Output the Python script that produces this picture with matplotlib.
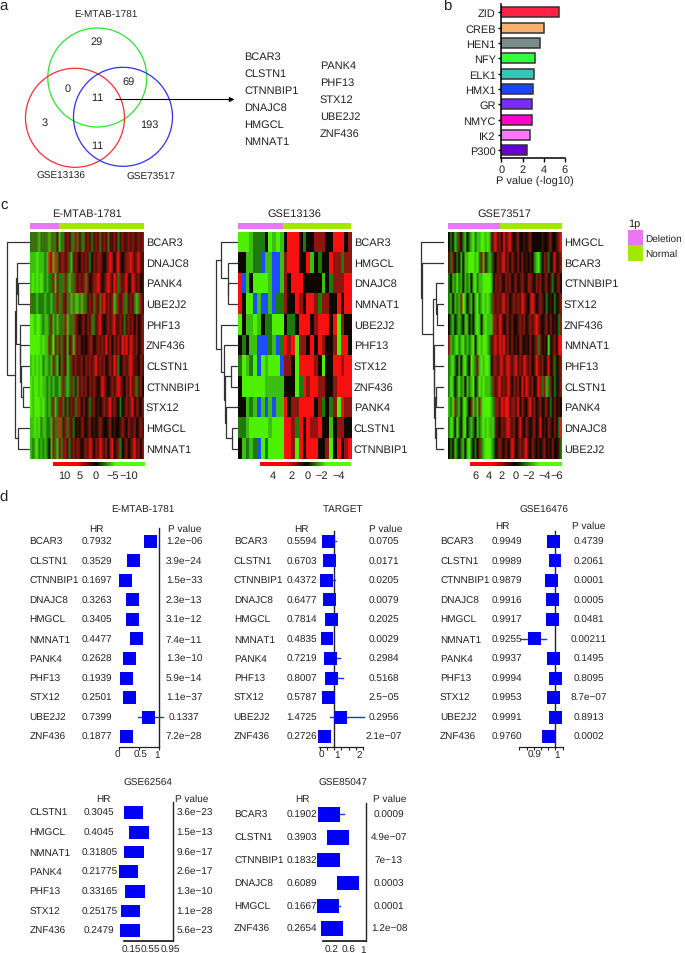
import numpy as np
import matplotlib
matplotlib.use('Agg')
import matplotlib.pyplot as plt
from matplotlib.colors import LinearSegmentedColormap, ListedColormap
from matplotlib.patches import Circle, Rectangle

plt.rcParams['font.family'] = ['Liberation Sans', 'DejaVu Sans']
plt.rcParams['text.hinting'] = 'no_hinting'
plt.rcParams['text.hinting_factor'] = 1

W, H = 685, 954
INK = '#222222'

# panel a
venn_names = ['E-MTAB-1781', 'GSE13136', 'GSE73517']
venn_counts = ['29', '0', '69', '11', '3', '193', '11']
overlap_col1 = ['BCAR3', 'CLSTN1', 'CTNNBIP1', 'DNAJC8', 'HMGCL', 'NMNAT1']
overlap_col2 = ['PANK4', 'PHF13', 'STX12', 'UBE2J2', 'ZNF436']

# panel b
tf_names = ['ZID', 'CREB', 'HEN1', 'NFY', 'ELK1', 'HMX1', 'GR', 'NMYC', 'IK2', 'P300']
tf_pvals = [5.4, 4.0, 3.6, 3.2, 3.1, 2.95, 2.9, 2.85, 2.7, 2.4]
tf_colors = ['#FF2244', '#F5B06E', '#7A8C88', '#33FF44', '#38C4B8',
             '#1A44FF', '#7A2CFF', '#FF00CC', '#FF77FF', '#6600CC']

# panel c, cells read by eye as colour levels, bright green .. bright red, b = blue
levels = 'GgdokmrRb'
level_colors = ['#4CF000', '#3BBF10', '#1F7A0C', '#5A6410', '#0E0800',
                '#4A1208', '#8E1510', '#F81010', '#1E4CFF']

heat1_genes = ['BCAR3', 'DNAJC8', 'PANK4', 'UBE2J2', 'PHF13', 'ZNF436',
               'CLSTN1', 'CTNNBIP1', 'STX12', 'HMGCL', 'NMNAT1']
heat1_rows = [
    'dodogdod ogodomgd omrmdoro mdomrmdm rmomrmom mrmdmrmm rmrmmrmr',
    'gggGgggd gRrgRdmr rmrdgmrm krmrmdkr mrrmkmrR rkrRmkmr rRrmrRmm',
    'gGgGgGgd gddrgrdd ordgodrm rmrorkmr rRrkmrRr mRrdrmrR kmRrmrkm',
    'oddgdddg ddgdorod rmoogogg ogodmrmo rmorRmrm rgormrdo mrmogorm',
    'GGgGGgdg gdrgdgod orgodorm kmrkrmod mrRmkmrm rRmmrmdm rmrkrkmr',
    'GGGGGgGg grdGrdrd rmgmrgrm rkmkmrrk mrmrmRmr krmrmRrR mRrmrkmr',
    'gGgGgGdg gdgrdgmd rmgdrmrm mrkrmrmr Rmrmrkmr mRrdkmrm rRrmmkrm',
    'GgGGgGgg dgdgddgo rdgdrdmo mrmrkrmr mkmRrmkm rmrRrmkr mRmrdmrk',
    'GgGGGgGg dgdrgdrr dmdmrmdr rkrkmdmr kmkmrmrR mrmkdkmr mrRkrmkr',
    'ggGgGdgg ddgrdoRd mrdrmdkm krmkmrkm kmrmkkmr kmkkmrmk rmmrkmrm',
    'gdgGdgdg dkgrdgrd rrmdmrmr mkmrmRrk rmRrmrkr Rkmrdkmr kmrRmrkr',
]

heat2_genes = ['BCAR3', 'HMGCL', 'DNAJC8', 'NMNAT1', 'UBE2J2', 'PHF13',
               'STX12', 'ZNF436', 'PANK4', 'CLSTN1', 'CTNNBIP1']
heat2_rows = [
    'GGGgdddkGgGg kRRRkdkkrrrkkRRRkr',
    'kkggddbggbbg rRRRkkRgkdkkRrrdrr',
    'RbgkGGGGgbbg rkRRRkkkkkgkdrrrRR',
    'RkGGbgbbgbdd rkkRrkRRrdrrkkRkRR',
    'GkggGgkddGGG kddkRRRkrRRRkRGrkk',
    'kdkggbbbdgbd RrRGrrkRkRrkkrGRRk',
    'dGgdGbGgGGGb rrkGRRRRrkGkkRRrRR',
    'kGGGGGGggggg kkkGdRrRRrrkkrRRRR',
    'kkgdgbgbgbgg RkrrRRRRkrdkdrGRrr',
    'ddgGGGGGgGGG RRrdRkRrrRkkgkrrkk',
    'kgdgdbGdGGGG RRrGRkRRRkkrGkRkrR',
]

heat3_genes = ['HMGCL', 'BCAR3', 'CTNNBIP1', 'STX12', 'ZNF436', 'NMNAT1',
               'PHF13', 'CLSTN1', 'PANK4', 'DNAJC8', 'UBE2J2']
heat3_rows = [
    'kdkgdrkd gkdgGdgg GGgGgmrR mrkRmrRm kmrkkmkm rkkkkkmk kmrkkmrR',
    'mdrkdkgk ggGGGgGd rgmdgdmk rmrRmrkr mkrkrkmk mkdgGdkr mdkmRkmr',
    'dkgdGdgk gdgkgGdg gGGGGgkr mrmkrmrk mrkmrmkr rmkrmrkm rkmdkmrk',
    'dgkgdgrG gkdgkgGd gGgGgdrm rmrRmrkm rmrmRrmk rRrkmrmk dkmkdkmr',
    'kdgkdgdk ggkdkgGg kgGgggrr mRrkmrkr kkmrmrkm rmrRrmkm rkrkmkdr',
    'rgdgGdgG dgdgGkgG gGGgdmrR mRrRmrkr kmkrmkmk rkmrdrkm kGkmrkRR',
    'dgGdkgkg GdkGgdrg GgGGgkrr mrRmrRrm rRmrmRrm rkmRrmrk mRkmdkmr',
    'dGgkdGdg kgdgGkdG gGgggdrm rRmrmRrk rmrkRmRr mrkmRrdr gdrkdkmr',
    'gdGrdgkg Gdkrgdgr gGGGGgdr rmRrRRmr rmRkrmkr Rmrkmrkm rkdkrkmk',
    'dGgkGdkg Gkdgdkgd gGgGgggm mkrmrRrm rkmRmkrm kmrkmRkm krmkrkdR',
    'kdkgdkdg kgGdkdkr dgGGGgdk mrmkrkmR rkmrmrRm krmkmkmr kmkrkkmd',
]

# dendrograms: (branch x in px, child, child), ints are row numbers
heat1_tree = (6.7, 0, (15, (16.5, (17, 1, (18.5, 2, 3)),
              (20, 4, (20.5, 5, (21.5, 6, (23.5, 7, 8))))), (18, 9, 10)))
heat2_tree = (216, (220.7, 0, (227.7, 1, (228, 2, 3))),
              (220.7, 4, (224.3, 5, (225, (231, 6, 7), (225.7, 8, (232.3, 9, 10))))))
heat3_tree = (421, 0, (421.7, 1, (432.7, (436, 2, (437.3, 3, 4)),
              (433.7, 5, (434, 6, (435, (436, 7, 8), (436, 9, 10)))))))

# panel d
emtab_genes = ['BCAR3', 'CLSTN1', 'CTNNBIP1', 'DNAJC8', 'HMGCL', 'NMNAT1',
               'PANK4', 'PHF13', 'STX12', 'UBE2J2', 'ZNF436']
emtab_hr = [0.7932, 0.3529, 0.1697, 0.3263, 0.3405, 0.4477, 0.2628, 0.1939, 0.2501, 0.7399, 0.1877]
emtab_hr_txt = ['0.7932', '0.3529', '0.1697', '0.3263', '0.3405', '0.4477', '0.2628', '0.1939', '0.2501', '0.7399', '0.1877']
emtab_p = ['1.2e−06', '3.9e−24', '1.5e−33', '2.3e−13', '3.1e−12', '7.4e−11',
           '1.3e−10', '5.9e−14', '1.1e−37', '0.1337', '7.2e−28']
emtab_ci = {9: (0.48, 1.11)}

target_hr = [0.5594, 0.6703, 0.4372, 0.6477, 0.7814, 0.4835, 0.7219, 0.8007, 0.5787, 1.4725, 0.2726]
target_hr_txt = ['0.5594', '0.6703', '0.4372', '0.6477', '0.7814', '0.4835', '0.7219', '0.8007', '0.5787', '1.4725', '0.2726']
target_p = ['0.0705', '0.0171', '0.0205', '0.0079', '0.2025', '0.0029',
            '0.2984', '0.5168', '2.5−05', '0.2956', '2.1e−07']
target_ci = {0: (0.5, 1.12), 2: (0.4, 1.03), 6: (0.6, 1.39), 7: (0.6, 1.6), 9: (0.69, 3.12)}

g16476_hr = [0.9949, 0.9989, 0.9879, 0.9916, 0.9917, 0.9255, 0.9937, 0.9994, 0.9953, 0.9991, 0.9760]
g16476_hr_txt = ['0.9949', '0.9989', '0.9879', '0.9916', '0.9917', '0.9255', '0.9937', '0.9994', '0.9953', '0.9991', '0.9760']
g16476_p = ['0.4739', '0.2061', '0.0001', '0.0005', '0.0481', '0.00211',
            '0.1495', '0.8095', '8.7e−07', '0.8913', '0.0002']
g16476_ci = {5: (0.878, 0.969)}

g62564_genes = ['CLSTN1', 'HMGCL', 'NMNAT1', 'PANK4', 'PHF13', 'STX12', 'ZNF436']
g62564_hr = [0.3045, 0.4045, 0.31805, 0.21775, 0.33165, 0.25175, 0.2479]
g62564_hr_txt = ['0.3045', '0.4045', '0.31805', '0.21775', '0.33165', '0.25175', '0.2479']
g62564_p = ['3.6e−23', '1.5e−13', '9.6e−17', '2.6e−17', '1.3e−10', '1.1e−28', '5.6e−23']

g85047_genes = ['BCAR3', 'CLSTN1', 'CTNNBIP1', 'DNAJC8', 'HMGCL', 'ZNF436']
g85047_hr = [0.1902, 0.3903, 0.1832, 0.6089, 0.1667, 0.2654]
g85047_hr_txt = ['0.1902', '0.3903', '0.1832', '0.6089', '0.1667', '0.2654']
g85047_p = ['0.0009', '4.9e−07', '7e−13', '0.0003', '0.0001', '1.2e−08']
g85047_ci = {0: (0.1, 0.52), 4: (0.1, 0.43)}


def add_ax(x0, y0, x1, y1):
    ax = fig.add_axes([x0 / W, 1 - y1 / H, (x1 - x0) / W, (y1 - y0) / H])
    ax.patch.set_visible(False)
    return ax


def txt(x, y, s, size=7.7, ha='center'):
    page.text(x, y, s, fontsize=size, ha=ha, va='center', color=INK)


def draw_tree(node, y0, dy, x_leaf):
    # returns the y of the node and its x, draws the joins on the way
    if isinstance(node, int):
        return y0 + (node + 0.5) * dy, x_leaf
    x, a, b = node
    ya, xa = draw_tree(a, y0, dy, x_leaf)
    yb, xb = draw_tree(b, y0, dy, x_leaf)
    page.plot([xa, x, x, xb], [ya, ya, yb, yb], color='#333333', lw=0.9, solid_joinstyle='miter')
    return (ya + yb) / 2, x


def heatmap(rows, genes, tree, x0, x1, split, bar_x0, ticks_v, ticks_x, vmax, v_left, v_right,
            title, title_x, label_x, leaf_x, smooth):
    y0, y1 = 232.7, 460
    cells = np.array([[levels.index(c) for c in r.replace(' ', '')] for r in rows])
    ax = add_ax(x0, y0, x1, y1)
    # one image per row, so a smooth panel blurs along the row and the row edges stay sharp
    rgb = heat_cmap(cells)
    n = cells.shape[1]
    for i in range(len(rows)):
        ax.imshow(rgb[i:i + 1], extent=(0, n, i + 1, i), aspect='auto',
                  interpolation='bilinear' if smooth else 'nearest')
    ax.set_xlim(0, n)
    ax.set_ylim(len(rows), 0)
    ax.axis('off')
    page.add_patch(Rectangle((x0, 224), split - x0, 6.3, color=DELETION, lw=0))
    page.add_patch(Rectangle((split, 224), x1 - split, 6.3, color=NORMAL, lw=0))
    txt(title_x, 214.3, title)
    dy = (y1 - y0) / 11
    for i, g in enumerate(genes):
        txt(label_x, y0 + (i + 0.5) * dy, g, ha='left')
    draw_tree(tree, y0, dy, leaf_x)
    # colour key
    cax = add_ax(bar_x0, 462.7, x1, 467)
    grad = np.linspace(v_left, v_right, 256).reshape(1, -1)
    cax.imshow(grad, aspect='auto', cmap=key_cmap, vmin=-vmax, vmax=vmax)
    cax.axis('off')
    for v, x in zip(ticks_v, ticks_x):
        txt(x, 475.7, v)


def forest(genes, hr, hr_txt, pvals, ci, x1, scale, xl, xr, y0, dy, ytop, ybot, box_w, box_h,
           ticks, title_xy, hr_head, p_head, gene_x, hr_x, p_x, tick_labels, tick_y, lw=0.9):
    ax = add_ax(xl, ytop, xr, ybot)
    ax.set_xlim(1 + (xl - x1) / scale, 1 + (xr - x1) / scale)
    ax.set_ylim((ybot - y0) / dy, (ytop - y0) / dy)
    rows = np.arange(len(genes))
    ax.axvline(1, color='#222222', lw=1.0, clip_on=False)
    for r, (lo, hi) in ci.items():
        ax.plot([lo, hi], [r, r], color='#2030F0', lw=1.0, clip_on=False, zorder=2)
    w = box_w / scale
    ax.barh(rows, w, left=np.array(hr) - w / 2, height=box_h / dy, color='#0000F5', lw=0, clip_on=False, zorder=3)
    for s in ['top', 'left', 'right']:
        ax.spines[s].set_visible(False)
    ax.spines['bottom'].set_linewidth(lw)
    ax.spines['bottom'].set_color('#222222')
    ax.set_yticks([])
    ax.set_xticks(ticks)
    ax.set_xticklabels([])
    ax.tick_params(axis='x', length=2.5, width=0.8, color='#222222')
    txt(title_xy[0], title_xy[1], title_xy[2], size=7.4)
    txt(hr_head[0], hr_head[1], 'HR', size=7.5)
    txt(p_head[0], p_head[1], 'P value', size=7.5)
    for i in rows:
        y = y0 + i * dy
        txt(gene_x, y, genes[i], size=7.35, ha='left')
        txt(hr_x, y, hr_txt[i], size=7.5)
        txt(p_x, y, pvals[i], size=7.5)
    for s, x in tick_labels:
        txt(x, tick_y, s, size=7.5)


fig = plt.figure(figsize=(W / 100, H / 100), dpi=100)

page = fig.add_axes([0, 0, 1, 1])
page.set_xlim(0, W)
page.set_ylim(H, 0)
page.axis('off')

for x, y, s in [(4, 6, 'a'), (447, 7, 'b'), (4, 205, 'c'), (4, 498, 'd')]:
    txt(x, y, s, size=10.5)

# a
for (cx, cy), c in zip([(97.3, 78.5), (75, 118.8), (123, 117.8)], ['#33DD33', '#F03030', '#3030F0']):
    page.add_patch(Circle((cx, cy), 49.5, fill=False, ec=c, lw=0.9))
for (x, y), s in zip([(106, 15.5), (61, 176.5), (151, 177)], venn_names):
    txt(x, y, s, size=7.5)
for (x, y), s in zip([(97, 42.5), (67.5, 89), (128.5, 82.5), (97, 98.5), (45, 123), (149, 125), (97, 146.5)], venn_counts):
    txt(x, y, s)
page.annotate('', xy=(234.5, 100.5), xytext=(116, 100.5),
              arrowprops=dict(arrowstyle='-|>', color='black', lw=0.8, mutation_scale=7, shrinkA=0, shrinkB=0))
for i, s in enumerate(overlap_col1):
    txt(244.5, 57.5 + i * 17, s, ha='left')
for i, s in enumerate(overlap_col2):
    txt(320, 66 + i * 17, s, ha='left')

# b
ax_b = add_ax(501.3, 5, 565, 159)
ax_b.barh(np.arange(len(tf_names)), tf_pvals, height=0.65, color=tf_colors, edgecolor='#333333', lw=1.1)
ax_b.set_xlim(0, 6)
ax_b.set_ylim(9.5, -0.54)
ax_b.set_yticks(np.arange(len(tf_names)))
ax_b.set_yticklabels(tf_names, fontsize=7.8, color=INK)
ax_b.set_xticks([0, 2, 4, 6])
ax_b.tick_params(axis='x', labelsize=7.8, length=3, width=1, pad=1.5, labelcolor=INK)
ax_b.tick_params(axis='y', length=2.5, width=1, pad=1.5)
for s in ['top', 'right']:
    ax_b.spines[s].set_visible(False)
for s in ['left', 'bottom']:
    ax_b.spines[s].set_linewidth(1.1)
txt(535, 182, 'P value (-log10)', size=7.7)

# c
DELETION = '#E678F0'
NORMAL = '#A0E800'
heat_cmap = ListedColormap(level_colors)
key_cmap = LinearSegmentedColormap.from_list('key', ['#55FF00', '#0A0500', '#FF0000'])

heatmap(heat1_rows, heat1_genes, heat1_tree, 30.3, 144, 59.3, 52.7,
        ['10', '5', '0', '−5', '−10'], [64.3, 79.7, 96, 112.3, 128.3], 6, 13.5, -15,
        'E-MTAB-1781', 86.7, 146, 29, True)
heatmap(heat2_rows, heat2_genes, heat2_tree, 237.7, 351.3, 282.7, 260.3,
        ['4', '2', '0', '−2', '−4'], [273, 291.7, 307.7, 321.7, 338.3], 2.5, 5.7, -5.4,
        'GSE13136', 294.3, 353.7, 237, False)
heatmap(heat3_rows, heat3_genes, heat3_tree, 448, 561.7, 499.7, 470,
        ['6', '4', '2', '0', '−2', '−4', '−6'], [475.3, 488.7, 501.7, 515.3, 529, 544.3, 556.7],
        3.5, 6.8, -6.8, 'GSE73517', 504.3, 564, 443.3, True)

txt(628, 224, '1p', ha='left')
page.add_patch(Rectangle((628, 230.7), 15.5, 15.6, color=DELETION, lw=0))
page.add_patch(Rectangle((628, 246.3), 15.5, 15.4, color=NORMAL, lw=0))
txt(645.5, 239, 'Deletion', size=7.5, ha='left')
txt(645.5, 254, 'Normal', size=7.5, ha='left')

# d
forest(emtab_genes, emtab_hr, emtab_hr_txt, emtab_p, emtab_ci, 159, 40, 118.7, 159, 542.3, 19.53, 529, 748.3, 13, 13,
       [0, 0.5, 1], (143.3, 510, 'E-MTAB-1781'), (96.3, 529), (184.3, 529), 29.3, 97, 184,
       [('0', 117.7), ('0.5', 140.7), ('1', 157.3)], 755)
forest(emtab_genes, target_hr, target_hr_txt, target_p, target_ci, 334.3, 14, 319.3, 363.3, 542.3, 19.53, 531.7, 748.3, 13, 13,
       1 + np.arange(-2, 5) * 0.524, (343, 510, 'TARGET'), (301, 529), (385.3, 529), 233.7, 301.9, 384,
       [('0', 321.7), ('1', 336.7), ('2', 359)], 755)
forest(emtab_genes, g16476_hr, g16476_hr_txt, g16476_p, g16476_ci, 555.3, 285, 519.3, 562.7, 542.3, 19.53, 531.7, 748.3, 13, 13,
       1 + np.arange(-5, 2) * 0.0253, (543.7, 510, 'GSE16476'), (502.3, 526), (589, 526), 440, 507, 589,
       [('0.9', 534.3), ('1', 556.7)], 755)
forest(g62564_genes, g62564_hr, g62564_hr_txt, g62564_p, {}, 173, 57, 124, 173, 813.7, 19.67, 803, 941.7, 19.3, 12.7,
       [], (148.3, 783, 'GSE62564'), (103.7, 799), (191.3, 799), 29.3, 99.2, 194.7,
       [('0.15', 131), ('0.55', 150.5), ('0.95', 170)], 950, lw=1.3)
forest(g85047_genes, g85047_hr, g85047_hr_txt, g85047_p, g85047_ci, 365.7, 45.4, 323, 365.7, 815.3, 22.9, 804, 941.7, 22.3, 14.7,
       [], (343.3, 783, 'GSE85047'), (302.3, 799), (390, 799), 234, 302, 389,
       [('0.2', 331.7), ('0.6', 349), ('1', 363)], 950, lw=1.3)

fig.savefig('out.png', dpi=100)
